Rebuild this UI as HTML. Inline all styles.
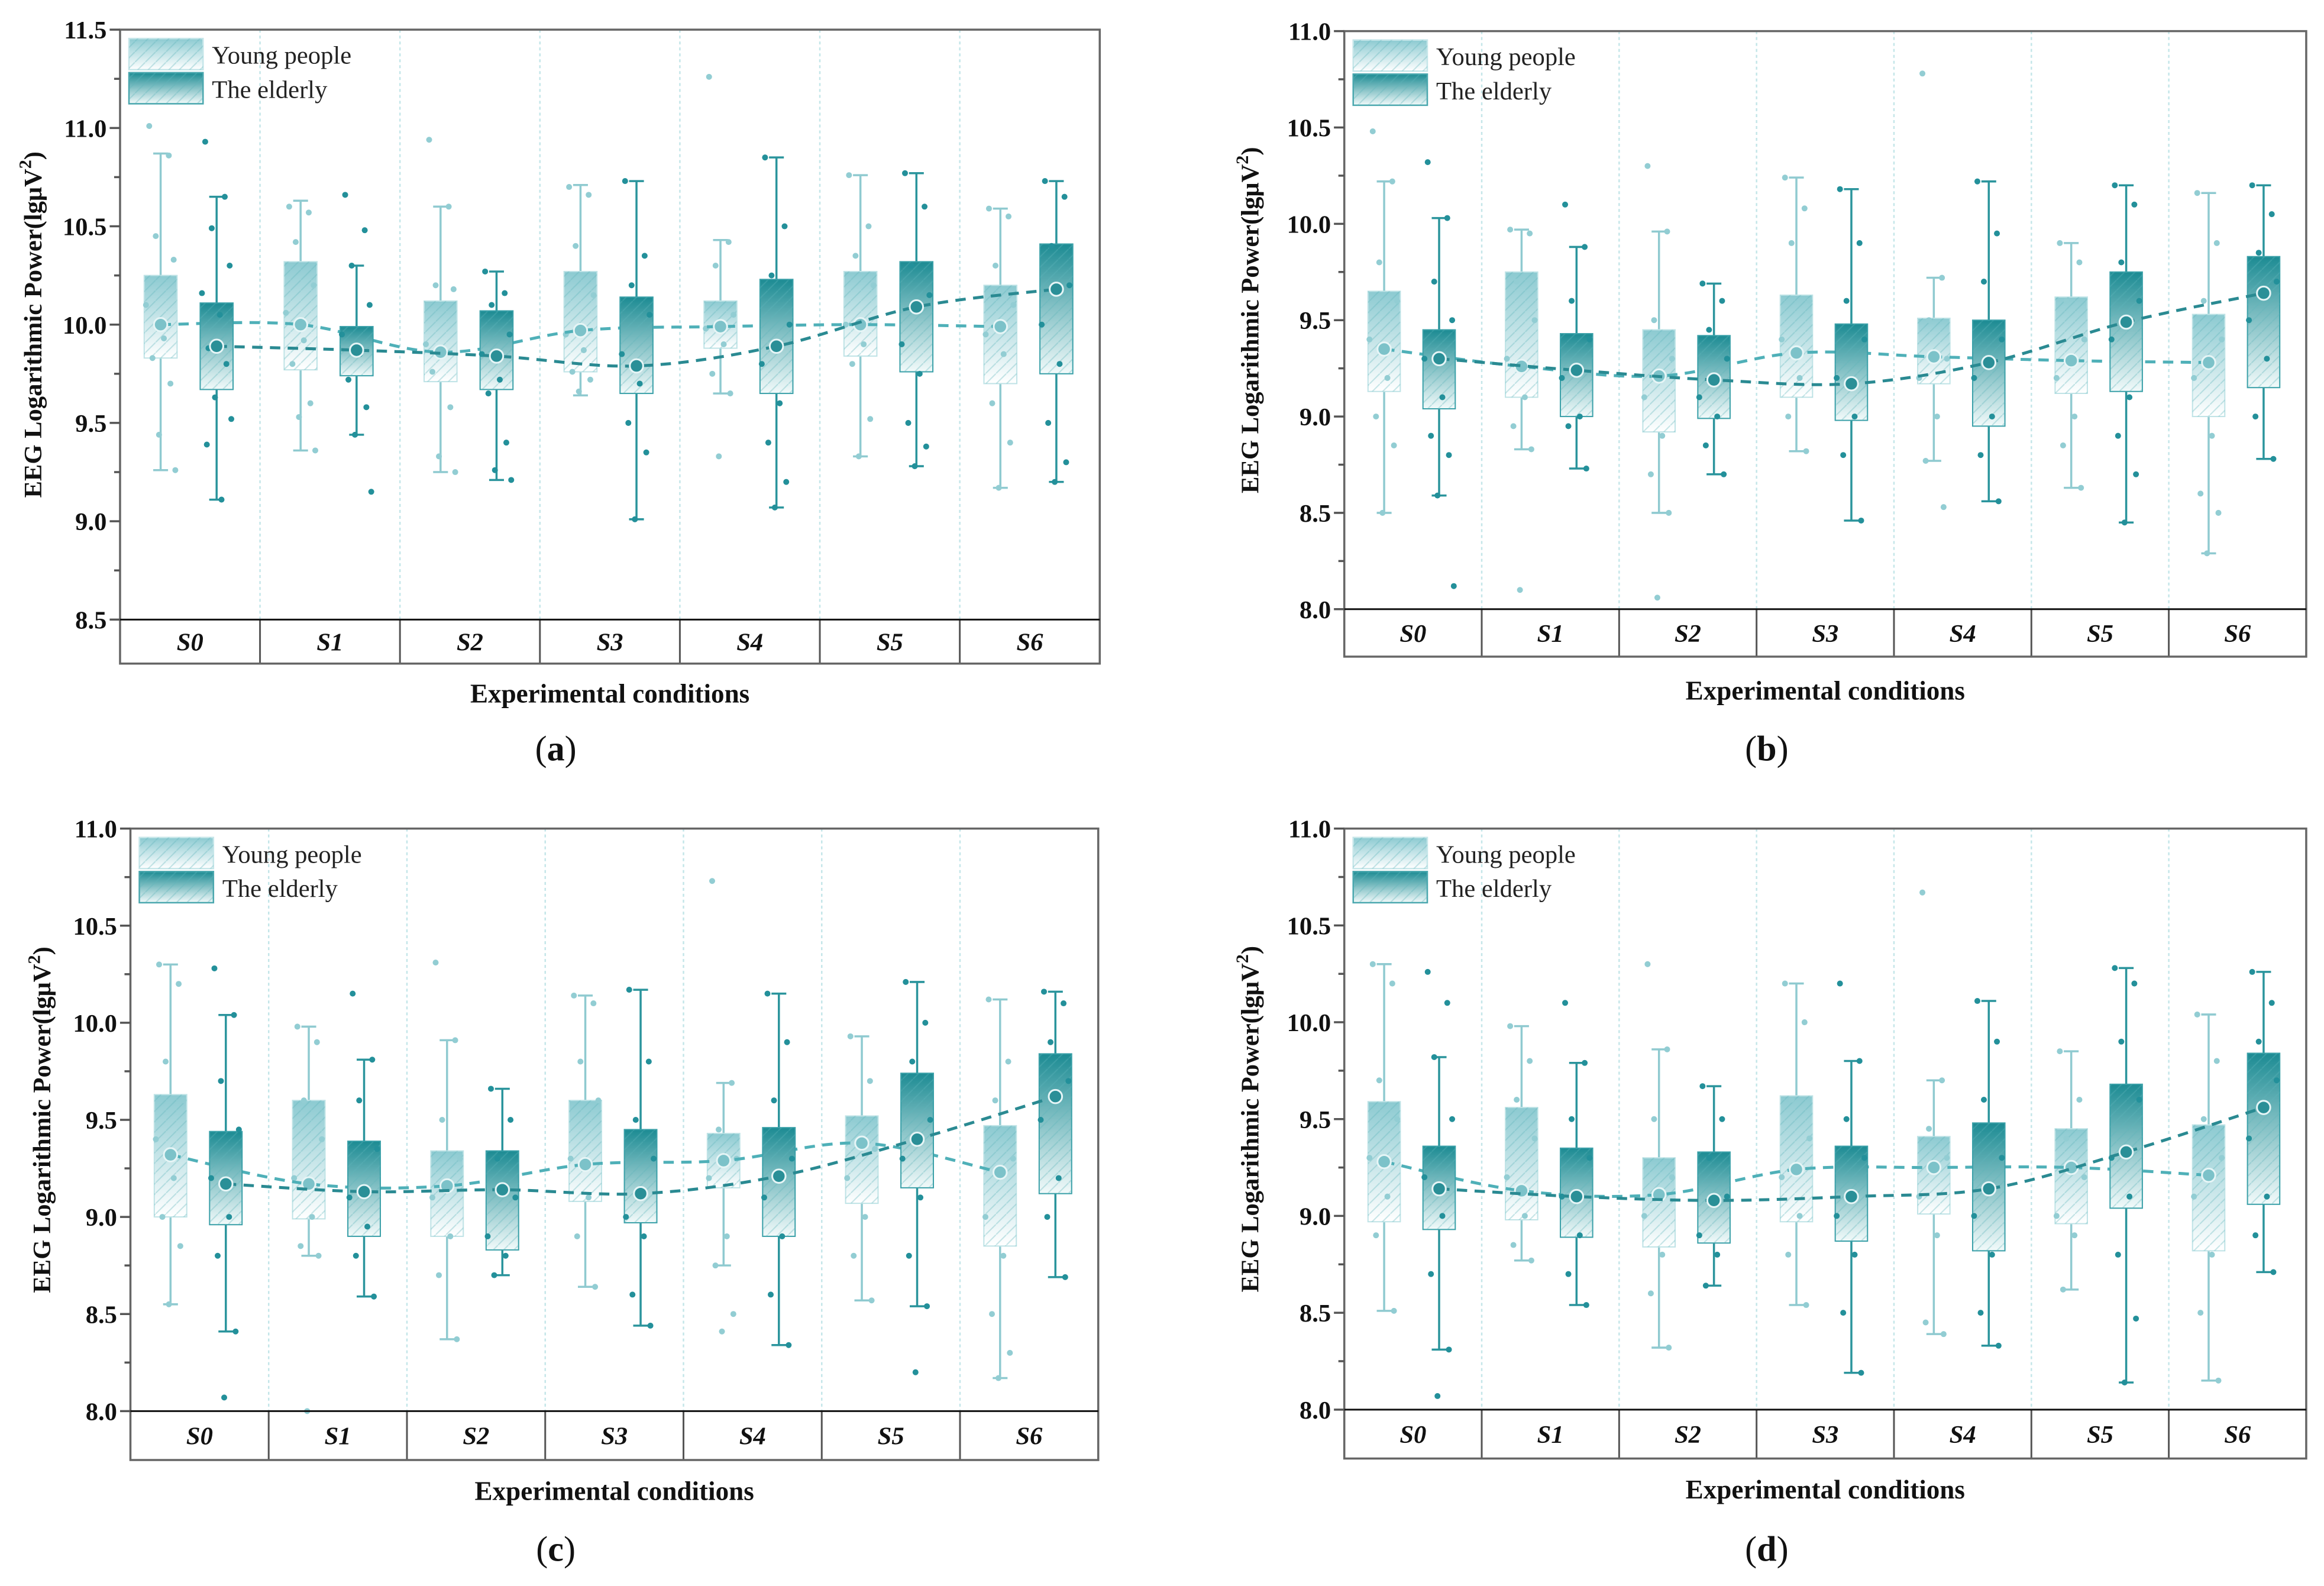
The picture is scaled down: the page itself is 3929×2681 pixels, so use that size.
<!DOCTYPE html>
<html><head><meta charset="utf-8"><style>
html,body{margin:0;padding:0;background:#fff;}
svg{display:block;}
text{font-family:"Liberation Serif",serif;}
</style></head>
<body>
<svg id="fig" width="3929" height="2681" viewBox="0 0 1568 1070" preserveAspectRatio="none" xmlns="http://www.w3.org/2000/svg">
<defs>
<linearGradient id="gY" x1="0" y1="0" x2="0" y2="1"><stop offset="0" stop-color="#8ccad1"/><stop offset="1" stop-color="#ffffff"/></linearGradient>
<linearGradient id="gE" x1="0" y1="0" x2="0" y2="1"><stop offset="0" stop-color="#1c8b93"/><stop offset="1" stop-color="#f2fafa"/></linearGradient>
<pattern id="hatch" patternUnits="userSpaceOnUse" width="7" height="7"><path d="M-1,8 L8,-1" stroke="#5fb3ba" stroke-opacity="0.35" stroke-width="0.8"/></pattern>
</defs>
</svg>
<script>
const categories = ["S0","S1","S2","S3","S4","S5","S6"];
const seriesNames = ["Young people","The elderly"];
// Panel a
const aYQ1=[9.83,9.77,9.71,9.76,9.88,9.84,9.70];
const aYQ3=[10.25,10.32,10.12,10.27,10.12,10.27,10.20];
const aYMean=[10.00,10.00,9.86,9.97,9.99,10.00,9.99];
const aYLo=[9.26,9.36,9.25,9.64,9.65,9.33,9.17];
const aYHi=[10.87,10.63,10.60,10.71,10.43,10.76,10.59];
const aEQ1=[9.67,9.74,9.67,9.65,9.65,9.76,9.75];
const aEQ3=[10.11,9.99,10.07,10.14,10.23,10.32,10.41];
const aEMean=[9.89,9.87,9.84,9.79,9.89,10.09,10.18];
const aELo=[9.11,9.44,9.21,9.01,9.07,9.28,9.20];
const aEHi=[10.65,10.30,10.27,10.73,10.85,10.77,10.73];
const aYPts=[[11.01,10.86,10.45,10.33,10.1,9.93,9.83,9.7,9.44,9.26],[10.6,10.57,10.42,10.2,10.06,9.92,9.8,9.6,9.53,9.36],[10.94,10.6,10.2,10.18,9.9,9.85,9.76,9.58,9.33,9.25],[10.7,10.66,10.4,10.15,9.95,9.87,9.76,9.72,9.66],[11.26,10.42,10.3,10.05,9.98,9.9,9.75,9.65,9.33],[10.76,10.5,10.35,10.2,10.0,9.9,9.8,9.52,9.33],[10.59,10.55,10.3,10.1,9.95,9.85,9.6,9.4,9.17]];
const aEPts=[[10.93,10.65,10.49,10.3,10.16,10.05,9.88,9.8,9.63,9.52,9.39,9.11],[10.66,10.48,10.3,10.1,9.95,9.85,9.72,9.58,9.44,9.15],[10.27,10.16,10.1,9.95,9.85,9.72,9.65,9.4,9.26,9.21],[10.73,10.35,10.2,10.05,9.85,9.7,9.5,9.35,9.01],[10.85,10.5,10.25,10.0,9.8,9.6,9.4,9.2,9.07],[10.77,10.6,10.3,10.15,9.9,9.75,9.5,9.38,9.28],[10.73,10.65,10.4,10.2,10.0,9.8,9.5,9.3,9.2]];
// Panel b
const bYQ1=[9.13,9.10,8.92,9.10,9.17,9.12,9.00];
const bYQ3=[9.65,9.75,9.45,9.63,9.51,9.62,9.53];
const bYMean=[9.35,9.26,9.21,9.33,9.31,9.29,9.28];
const bYLo=[8.50,8.83,8.50,8.82,8.77,8.63,8.29];
const bYHi=[10.22,9.97,9.96,10.24,9.72,9.90,10.16];
const bEQ1=[9.04,9.00,8.99,8.98,8.95,9.13,9.15];
const bEQ3=[9.45,9.43,9.42,9.48,9.50,9.75,9.83];
const bEMean=[9.30,9.24,9.19,9.17,9.28,9.49,9.64];
const bELo=[8.59,8.73,8.70,8.46,8.56,8.45,8.78];
const bEHi=[10.03,9.88,9.69,10.18,10.22,10.20,10.20];
const bYPts=[[10.48,10.22,9.8,9.6,9.4,9.2,9.0,8.85,8.5],[9.97,9.95,9.7,9.5,9.3,9.1,8.95,8.83,8.1],[10.3,9.96,9.5,9.3,9.1,8.9,8.7,8.5,8.06],[10.24,10.08,9.9,9.6,9.4,9.2,9.0,8.82],[10.78,9.72,9.5,9.3,9.2,9.0,8.77,8.53],[9.9,9.8,9.6,9.4,9.2,9.0,8.85,8.63],[10.16,9.9,9.6,9.4,9.2,8.9,8.6,8.5,8.29]];
const bEPts=[[10.32,10.03,9.7,9.5,9.3,9.1,8.9,8.8,8.59,8.12],[10.1,9.88,9.6,9.4,9.2,9.0,8.95,8.73],[9.69,9.6,9.45,9.3,9.1,9.0,8.85,8.7],[10.18,9.9,9.6,9.4,9.2,9.0,8.8,8.46],[10.22,9.95,9.7,9.4,9.2,9.0,8.8,8.56],[10.2,10.1,9.8,9.6,9.4,9.1,8.9,8.7,8.45],[10.2,10.05,9.85,9.7,9.5,9.3,9.0,8.78]];
// Panel c
const cYQ1=[9.00,8.99,8.90,9.08,9.15,9.07,8.85];
const cYQ3=[9.63,9.60,9.34,9.60,9.43,9.52,9.47];
const cYMean=[9.32,9.17,9.16,9.27,9.29,9.38,9.23];
const cYLo=[8.55,8.80,8.37,8.64,8.75,8.57,8.17];
const cYHi=[10.30,9.98,9.91,10.14,9.69,9.93,10.12];
const cEQ1=[8.96,8.90,8.83,8.97,8.90,9.15,9.12];
const cEQ3=[9.44,9.39,9.34,9.45,9.46,9.74,9.84];
const cEMean=[9.17,9.13,9.14,9.12,9.21,9.40,9.62];
const cELo=[8.41,8.59,8.70,8.44,8.34,8.54,8.69];
const cEHi=[10.04,9.81,9.66,10.17,10.15,10.21,10.16];
const cYPts=[[10.3,10.2,9.8,9.6,9.4,9.2,9.0,8.85,8.55],[9.98,9.9,9.6,9.4,9.2,9.0,8.85,8.8,8.0],[10.31,9.91,9.5,9.3,9.1,8.9,8.7,8.37],[10.14,10.1,9.8,9.6,9.3,9.1,8.9,8.64],[10.73,9.69,9.45,9.3,9.2,8.9,8.75,8.5,8.41],[9.93,9.7,9.5,9.35,9.2,9.0,8.8,8.57],[10.12,9.8,9.6,9.3,9.0,8.8,8.5,8.3,8.17]];
const cEPts=[[10.28,10.04,9.7,9.45,9.2,9.0,8.8,8.41,8.07],[10.15,9.81,9.6,9.35,9.1,8.95,8.8,8.59],[9.66,9.5,9.3,9.1,8.9,8.8,8.7],[10.17,9.8,9.5,9.3,9.0,8.9,8.6,8.44],[10.15,9.9,9.6,9.3,9.1,8.9,8.6,8.34],[10.21,10.0,9.8,9.5,9.3,9.1,8.8,8.54,8.2],[10.16,10.1,9.9,9.7,9.5,9.2,9.0,8.69]];
// Panel d
const dYQ1=[8.97,8.98,8.84,8.97,9.01,8.96,8.82];
const dYQ3=[9.59,9.56,9.30,9.62,9.41,9.45,9.47];
const dYMean=[9.28,9.13,9.11,9.24,9.25,9.25,9.21];
const dYLo=[8.51,8.77,8.32,8.54,8.39,8.62,8.15];
const dYHi=[10.30,9.98,9.86,10.20,9.70,9.85,10.04];
const dEQ1=[8.93,8.89,8.86,8.87,8.82,9.04,9.06];
const dEQ3=[9.36,9.35,9.33,9.36,9.48,9.68,9.84];
const dEMean=[9.14,9.10,9.08,9.10,9.14,9.33,9.56];
const dELo=[8.31,8.54,8.64,8.19,8.33,8.14,8.71];
const dEHi=[9.82,9.79,9.67,9.80,10.11,10.28,10.26];
const dYPts=[[10.3,10.2,9.7,9.5,9.3,9.1,8.9,8.51],[9.98,9.8,9.6,9.4,9.2,9.0,8.85,8.77],[10.3,9.86,9.5,9.2,9.0,8.8,8.6,8.32],[10.2,10.0,9.6,9.4,9.2,9.0,8.8,8.54],[10.67,9.7,9.45,9.3,9.1,8.9,8.45,8.39],[9.85,9.6,9.4,9.2,9.0,8.9,8.62],[10.04,9.8,9.5,9.3,9.1,8.8,8.5,8.15]];
const dEPts=[[10.26,10.1,9.82,9.5,9.2,9.0,8.7,8.31,8.07],[10.1,9.79,9.5,9.3,9.1,8.9,8.7,8.54],[9.67,9.5,9.3,9.1,8.9,8.8,8.64],[10.2,9.8,9.5,9.3,9.0,8.8,8.5,8.19],[10.11,9.9,9.6,9.3,9.0,8.8,8.5,8.33],[10.28,10.2,9.9,9.6,9.3,9.1,8.8,8.47,8.14],[10.26,10.1,9.9,9.7,9.4,9.1,8.9,8.71]];
const aTicks=["8.5","9.0","9.5","10.0","10.5","11.0","11.5"];
const bcdTicks=["8.0","8.5","9.0","9.5","10.0","10.5","11.0"];

const NS="http://www.w3.org/2000/svg";
const svg=document.getElementById('fig');
function mk(tag,attrs,parent){const e=document.createElementNS(NS,tag);for(const k in attrs)e.setAttribute(k,attrs[k]);(parent||svg).appendChild(e);return e;}
const jit=[-7,5,-3,8,-9,2,-5,6,-1,9,-6,3];

const panels=[
 {key:'a',L:81,R:742,T:20,B:418,band:447.7,ymin:8.5,ymax:11.5,ticks:aTicks,xt:468,ytx:22,lx:375,ly:505,
  Y:[aYQ1,aYQ3,aYMean,aYLo,aYHi,aYPts],E:[aEQ1,aEQ3,aEMean,aELo,aEHi,aEPts]},
 {key:'b',L:907,R:1556,T:21,B:411,band:443,ymin:8,ymax:11,ticks:bcdTicks,xt:466,ytx:843,lx:1192,ly:505,
  Y:[bYQ1,bYQ3,bYMean,bYLo,bYHi,bYPts],E:[bEQ1,bEQ3,bEMean,bELo,bEHi,bEPts]},
 {key:'c',L:88,R:741,T:559,B:952,band:985,ymin:8,ymax:11,ticks:bcdTicks,xt:1006,ytx:28,lx:375,ly:1045,
  Y:[cYQ1,cYQ3,cYMean,cYLo,cYHi,cYPts],E:[cEQ1,cEQ3,cEMean,cELo,cEHi,cEPts]},
 {key:'d',L:907,R:1556,T:559,B:951,band:984,ymin:8,ymax:11,ticks:bcdTicks,xt:1005,ytx:843,lx:1192,ly:1045,
  Y:[dYQ1,dYQ3,dYMean,dYLo,dYHi,dYPts],E:[dEQ1,dEQ3,dEMean,dELo,dEHi,dEPts]}
];

function smooth(pts){let d=`M${pts[0][0]},${pts[0][1]}`;for(let i=0;i<pts.length-1;i++){const p0=pts[i-1]||pts[i],p1=pts[i],p2=pts[i+1],p3=pts[i+2]||p2;
 d+=` C${p1[0]+(p2[0]-p0[0])/6},${p1[1]+(p2[1]-p0[1])/6} ${p2[0]-(p3[0]-p1[0])/6},${p2[1]-(p3[1]-p1[1])/6} ${p2[0]},${p2[1]}`;}return d;}

panels.forEach(P=>{
 const g=mk('g',{});
 
 
 const w=(P.R-P.L)/categories.length;
 const y=v=>P.B-(v-P.ymin)/(P.ymax-P.ymin)*(P.B-P.T);
 const cx=(i,grp)=>P.L+w*i+w*(grp===0?0.29:0.69);
 const bw=w*0.235;
 // separators
 for(let i=1;i<categories.length;i++){
  const s=mk('line',{x1:P.L+w*i,x2:P.L+w*i,y1:P.T,y2:P.B,stroke:'#c4e6e9','stroke-width':1,'stroke-dasharray':'2,2'},g);
  
  
  const s2=mk('line',{x1:P.L+w*i,x2:P.L+w*i,y1:P.B,y2:P.band,stroke:'#555','stroke-width':1.2},g);
  
  
 }
 [P.Y,P.E].forEach((S,grp)=>{
  const col=grp===0?'#8fcad0':'#2a949c';
  const dot=grp===0?'#92cdd3':'#23909a';
  for(let i=0;i<categories.length;i++){
   const x=cx(i,grp);
   const q1=S[0][i],q3=S[1][i],lo=S[3][i],hi=S[4][i];
   const wl=mk('line',{x1:x,x2:x,y1:y(hi),y2:y(q3),stroke:col,'stroke-width':1.4},g);
   
   
   const wl2=mk('line',{x1:x,x2:x,y1:y(q1),y2:y(lo),stroke:col,'stroke-width':1.4},g);
   
   
   [hi,lo].forEach(v=>{const c=mk('line',{x1:x-5,x2:x+5,y1:y(v),y2:y(v),stroke:col,'stroke-width':1.4},g);
    
    });
   const r=mk('rect',{x:x-bw/2,y:y(q3),width:bw,height:y(q1)-y(q3),fill:grp===0?'url(#gY)':'url(#gE)',stroke:grp===0?'#bfe3e6':'#3aa0a8','stroke-width':0.8},g);
   
   
   const h=mk('rect',{x:x-bw/2,y:y(q3),width:bw,height:y(q1)-y(q3),fill:'url(#hatch)'},g);
   
   
   S[5][i].forEach((v,k)=>{const p=mk('circle',{cx:x+jit[k%jit.length]*1.1,cy:y(v),r:2,fill:dot},g);
    
    });
  }
  const mp=S[2].map((v,i)=>[cx(i,grp),y(v)]);
  const ml=mk('path',{d:smooth(mp),fill:'none',stroke:grp===0?'#4fb0b8':'#2a8a92','stroke-width':2,'stroke-dasharray':'7,5'},g);
  
  
  mp.forEach(p=>{const m=mk('circle',{cx:p[0],cy:p[1],r:4.5,fill:grp===0?'#7cc2c9':'#2a8f97',stroke:'#e6f5f6','stroke-width':1.2},g);
   
   });
 });
 // frame
 const fr=mk('rect',{x:P.L,y:P.T,width:P.R-P.L,height:P.band-P.T,fill:'none',stroke:'#666','stroke-width':1.4},g);
 
 
 const bl=mk('line',{x1:P.L,x2:P.R,y1:P.B,y2:P.B,stroke:'#111','stroke-width':1.2},g);
 
 
 // ticks
 P.ticks.forEach((t,k)=>{const v=parseFloat(t);const ty=y(v);
  const tl=mk('line',{x1:P.L-7,x2:P.L,y1:ty,y2:ty,stroke:'#555','stroke-width':1.4},g);
  
  
  const tt=mk('text',{x:P.L-9,y:ty+6,'text-anchor':'end','font-size':17,'font-weight':'bold',fill:'#111'},g);
  tt.textContent=t;
  
  
  if(k<P.ticks.length-1){const my=y(v+0.25);const ml=mk('line',{x1:P.L-4,x2:P.L,y1:my,y2:my,stroke:'#555','stroke-width':1.4},g);
   
   }
 });
 categories.forEach((c,i)=>{const t=mk('text',{x:P.L+w*(i+0.5),y:(P.B+P.band)/2+6,'text-anchor':'middle','font-size':17,'font-weight':'bold','font-style':'italic',fill:'#111'},g);
  t.textContent=c;
  
  });
 const xt=mk('text',{x:(P.L+P.R)/2,y:P.xt+6,'text-anchor':'middle','font-size':18,'font-weight':'bold',fill:'#111'},g);
 xt.textContent='Experimental conditions';
 
 
 const ymid=(P.T+P.B)/2;
 const yt=mk('text',{x:P.ytx,y:ymid,'text-anchor':'middle','font-size':17,'font-weight':'bold',fill:'#111',transform:`rotate(-90 ${P.ytx} ${ymid})`,dy:6},g);
 yt.innerHTML='EEG Logarithmic Power(lgμV<tspan dy="-7" font-size="12">2</tspan><tspan dy="7">)</tspan>';
 
 
 // legend
 const lx=P.L+6,ly=P.T+6;
 seriesNames.forEach((n,k)=>{
  const r=mk('rect',{x:lx,y:ly+k*23,width:50,height:21,fill:k===0?'url(#gY)':'url(#gE)',stroke:k===0?'#c6e6e9':'#4aa7ae','stroke-width':1},g);
  
  
  const h=mk('rect',{x:lx,y:ly+k*23,width:50,height:21,fill:'url(#hatch)'},g);
  
  
  const t=mk('text',{x:lx+56,y:ly+k*23+17,'font-size':17,fill:'#222'},g);
  t.textContent=n;
  
  
 });
 const lt=mk('text',{x:P.lx,y:P.ly+8,'text-anchor':'middle','font-size':24,fill:'#111'},g);
 lt.innerHTML='(<tspan font-weight="bold">'+P.key+'</tspan>)';
 
 
});
</script>
</body></html>
